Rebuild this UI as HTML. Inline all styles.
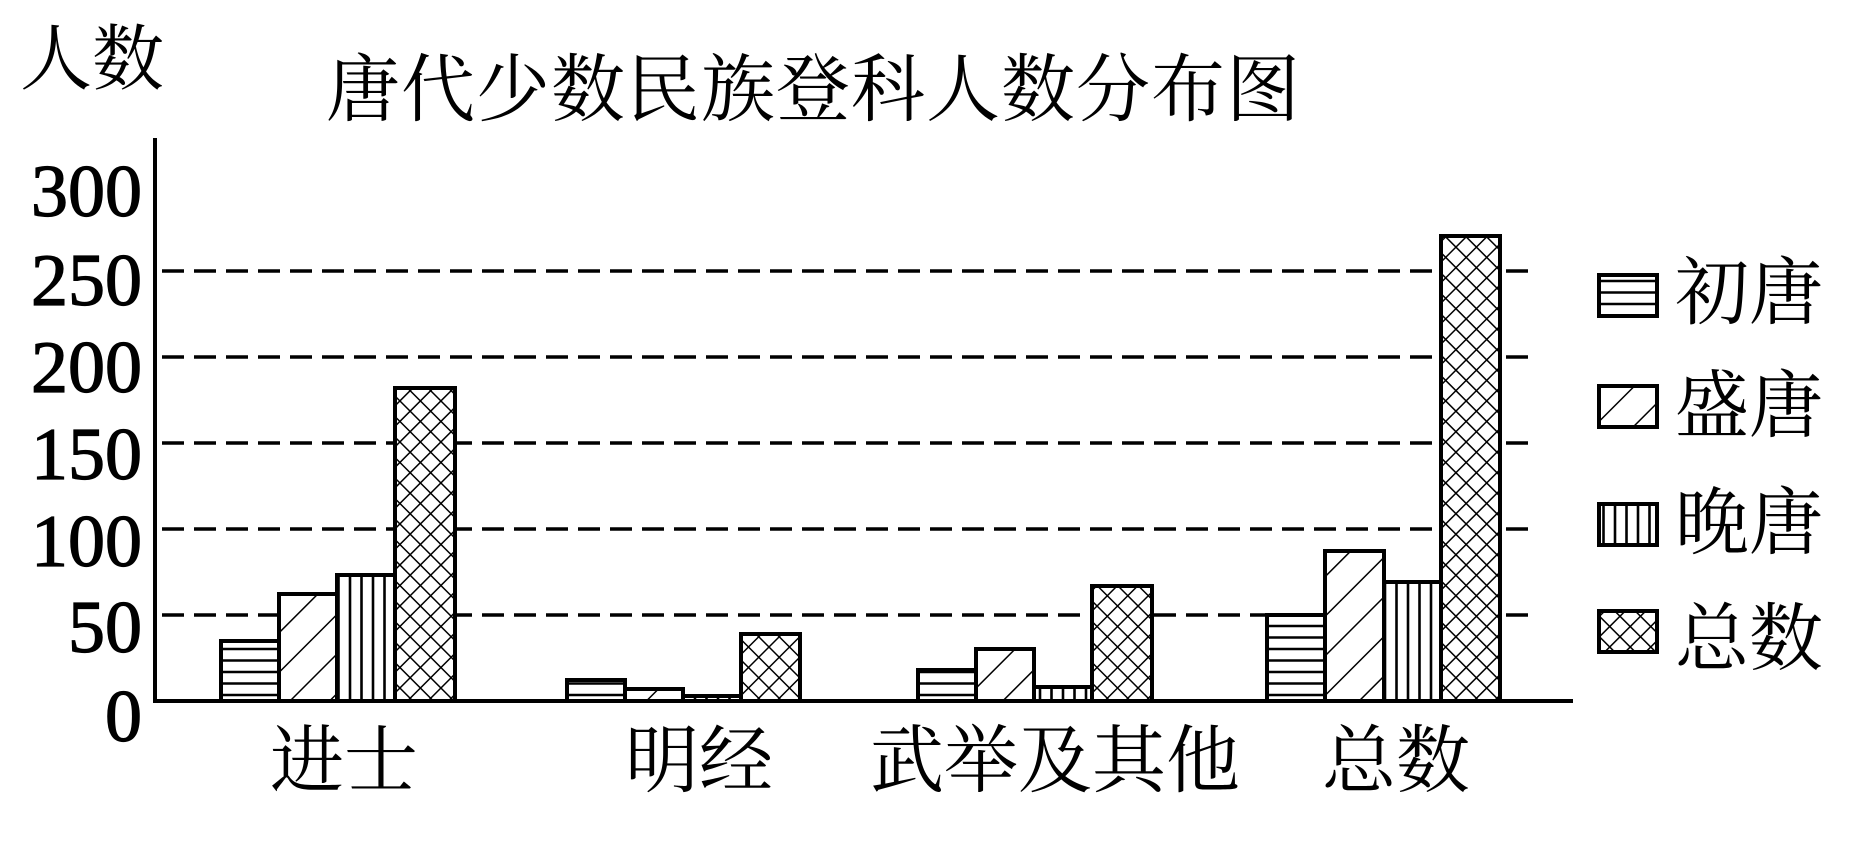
<!DOCTYPE html>
<html><head><meta charset="utf-8"><style>
html,body{margin:0;padding:0;background:#fff;}
svg{display:block;}
.cj{font-family:"Liberation Serif","Noto Serif CJK SC",serif;}
.num{font-family:"Liberation Serif",serif;font-size:74px;stroke:#000;stroke-width:1.2px;}
</style></head><body>
<svg width="1850" height="841" viewBox="0 0 1850 841" xmlns="http://www.w3.org/2000/svg">
<defs>
<pattern id="ph" patternUnits="userSpaceOnUse" width="20" height="11.5"><line x1="0" y1="5" x2="20" y2="5" stroke="#000" stroke-width="2.6"/></pattern>
<pattern id="pv" patternUnits="userSpaceOnUse" width="11.5" height="20"><line x1="5" y1="0" x2="5" y2="20" stroke="#000" stroke-width="2.6"/></pattern>
<pattern id="pd" patternUnits="userSpaceOnUse" width="28" height="28" patternTransform="rotate(45)"><line x1="0" y1="0" x2="0" y2="28" stroke="#000" stroke-width="3"/></pattern>
<pattern id="px" patternUnits="userSpaceOnUse" width="14.5" height="14.5" patternTransform="rotate(45)"><line x1="0" y1="0" x2="0" y2="14.5" stroke="#000" stroke-width="3"/><line x1="0" y1="0" x2="14.5" y2="0" stroke="#000" stroke-width="3"/></pattern>
</defs>
<text class="cj" x="20" y="84" font-size="72">人数</text>
<text class="cj" x="326" y="115" font-size="74" letter-spacing="1">唐代少数民族登科人数分布图</text>
<g class="num" text-anchor="end">
<text x="142" y="216">300</text>
<text x="142" y="305">250</text>
<text x="142" y="392">200</text>
<text x="142" y="479">150</text>
<text x="142" y="566">100</text>
<text x="142" y="652">50</text>
<text x="142" y="741">0</text>
</g>
<g stroke="#000" stroke-width="3.5" stroke-dasharray="22 10">
<line x1="162" y1="271" x2="1533" y2="271"/>
<line x1="162" y1="357" x2="1533" y2="357"/>
<line x1="162" y1="443" x2="1533" y2="443"/>
<line x1="162" y1="529" x2="1533" y2="529"/>
<line x1="162" y1="615" x2="1533" y2="615"/>
</g>
<g stroke="#000" stroke-width="4">
<rect x="221" y="641" width="58" height="60" fill="#fff"/><rect x="221" y="641" width="58" height="60" fill="url(#ph)"/>
<rect x="279" y="594" width="58" height="107" fill="#fff"/><rect x="279" y="594" width="58" height="107" fill="url(#pd)"/>
<rect x="337" y="575" width="58" height="126" fill="#fff"/><rect x="337" y="575" width="58" height="126" fill="url(#pv)"/>
<rect x="395" y="388" width="60" height="313" fill="#fff"/><rect x="395" y="388" width="60" height="313" fill="url(#px)"/>

<rect x="567" y="680" width="58" height="21" fill="#fff"/><rect x="567" y="680" width="58" height="21" fill="url(#ph)"/>
<rect x="625" y="689" width="58" height="12" fill="#fff"/><rect x="625" y="689" width="58" height="12" fill="url(#pd)"/>
<rect x="683" y="696" width="58" height="5" fill="#fff"/><rect x="683" y="696" width="58" height="5" fill="url(#pv)"/>
<rect x="741" y="634" width="59" height="67" fill="#fff"/><rect x="741" y="634" width="59" height="67" fill="url(#px)"/>

<rect x="918" y="670" width="58" height="31" fill="#fff"/><rect x="918" y="670" width="58" height="31" fill="url(#ph)"/>
<rect x="976" y="649" width="58" height="52" fill="#fff"/><rect x="976" y="649" width="58" height="52" fill="url(#pd)"/>
<rect x="1034" y="687" width="58" height="14" fill="#fff"/><rect x="1034" y="687" width="58" height="14" fill="url(#pv)"/>
<rect x="1092" y="586" width="60" height="115" fill="#fff"/><rect x="1092" y="586" width="60" height="115" fill="url(#px)"/>

<rect x="1267" y="615" width="58" height="86" fill="#fff"/><rect x="1267" y="615" width="58" height="86" fill="url(#ph)"/>
<rect x="1325" y="551" width="59" height="150" fill="#fff"/><rect x="1325" y="551" width="59" height="150" fill="url(#pd)"/>
<rect x="1384" y="582" width="57" height="119" fill="#fff"/><rect x="1384" y="582" width="57" height="119" fill="url(#pv)"/>
<rect x="1441" y="236" width="59" height="465" fill="#fff"/><rect x="1441" y="236" width="59" height="465" fill="url(#px)"/>
</g>
<line x1="155" y1="138" x2="155" y2="703" stroke="#000" stroke-width="4"/>
<line x1="153" y1="701" x2="1573" y2="701" stroke="#000" stroke-width="4"/>
<g class="cj" font-size="74">
<text x="270" y="786">进士</text>
<text x="625" y="786">明经</text>
<text x="870" y="786">武举及其他</text>
<text x="1322" y="786">总数</text>
</g>
<g stroke="#000" stroke-width="4">
<rect x="1599" y="275" width="58" height="41" fill="#fff"/><rect x="1599" y="275" width="58" height="41" fill="url(#ph)"/>
<rect x="1599" y="386" width="58" height="41" fill="#fff"/><rect x="1599" y="386" width="58" height="41" fill="url(#pd)"/>
<rect x="1599" y="504" width="58" height="41" fill="#fff"/><rect x="1599" y="504" width="58" height="41" fill="url(#pv)"/>
<rect x="1599" y="611" width="58" height="41" fill="#fff"/><rect x="1599" y="611" width="58" height="41" fill="url(#px)"/>
</g>
<g class="cj" font-size="74">
<text x="1675" y="318">初唐</text>
<text x="1675" y="431">盛唐</text>
<text x="1675" y="548">晚唐</text>
<text x="1675" y="664">总数</text>
</g>
</svg>
</body></html>
